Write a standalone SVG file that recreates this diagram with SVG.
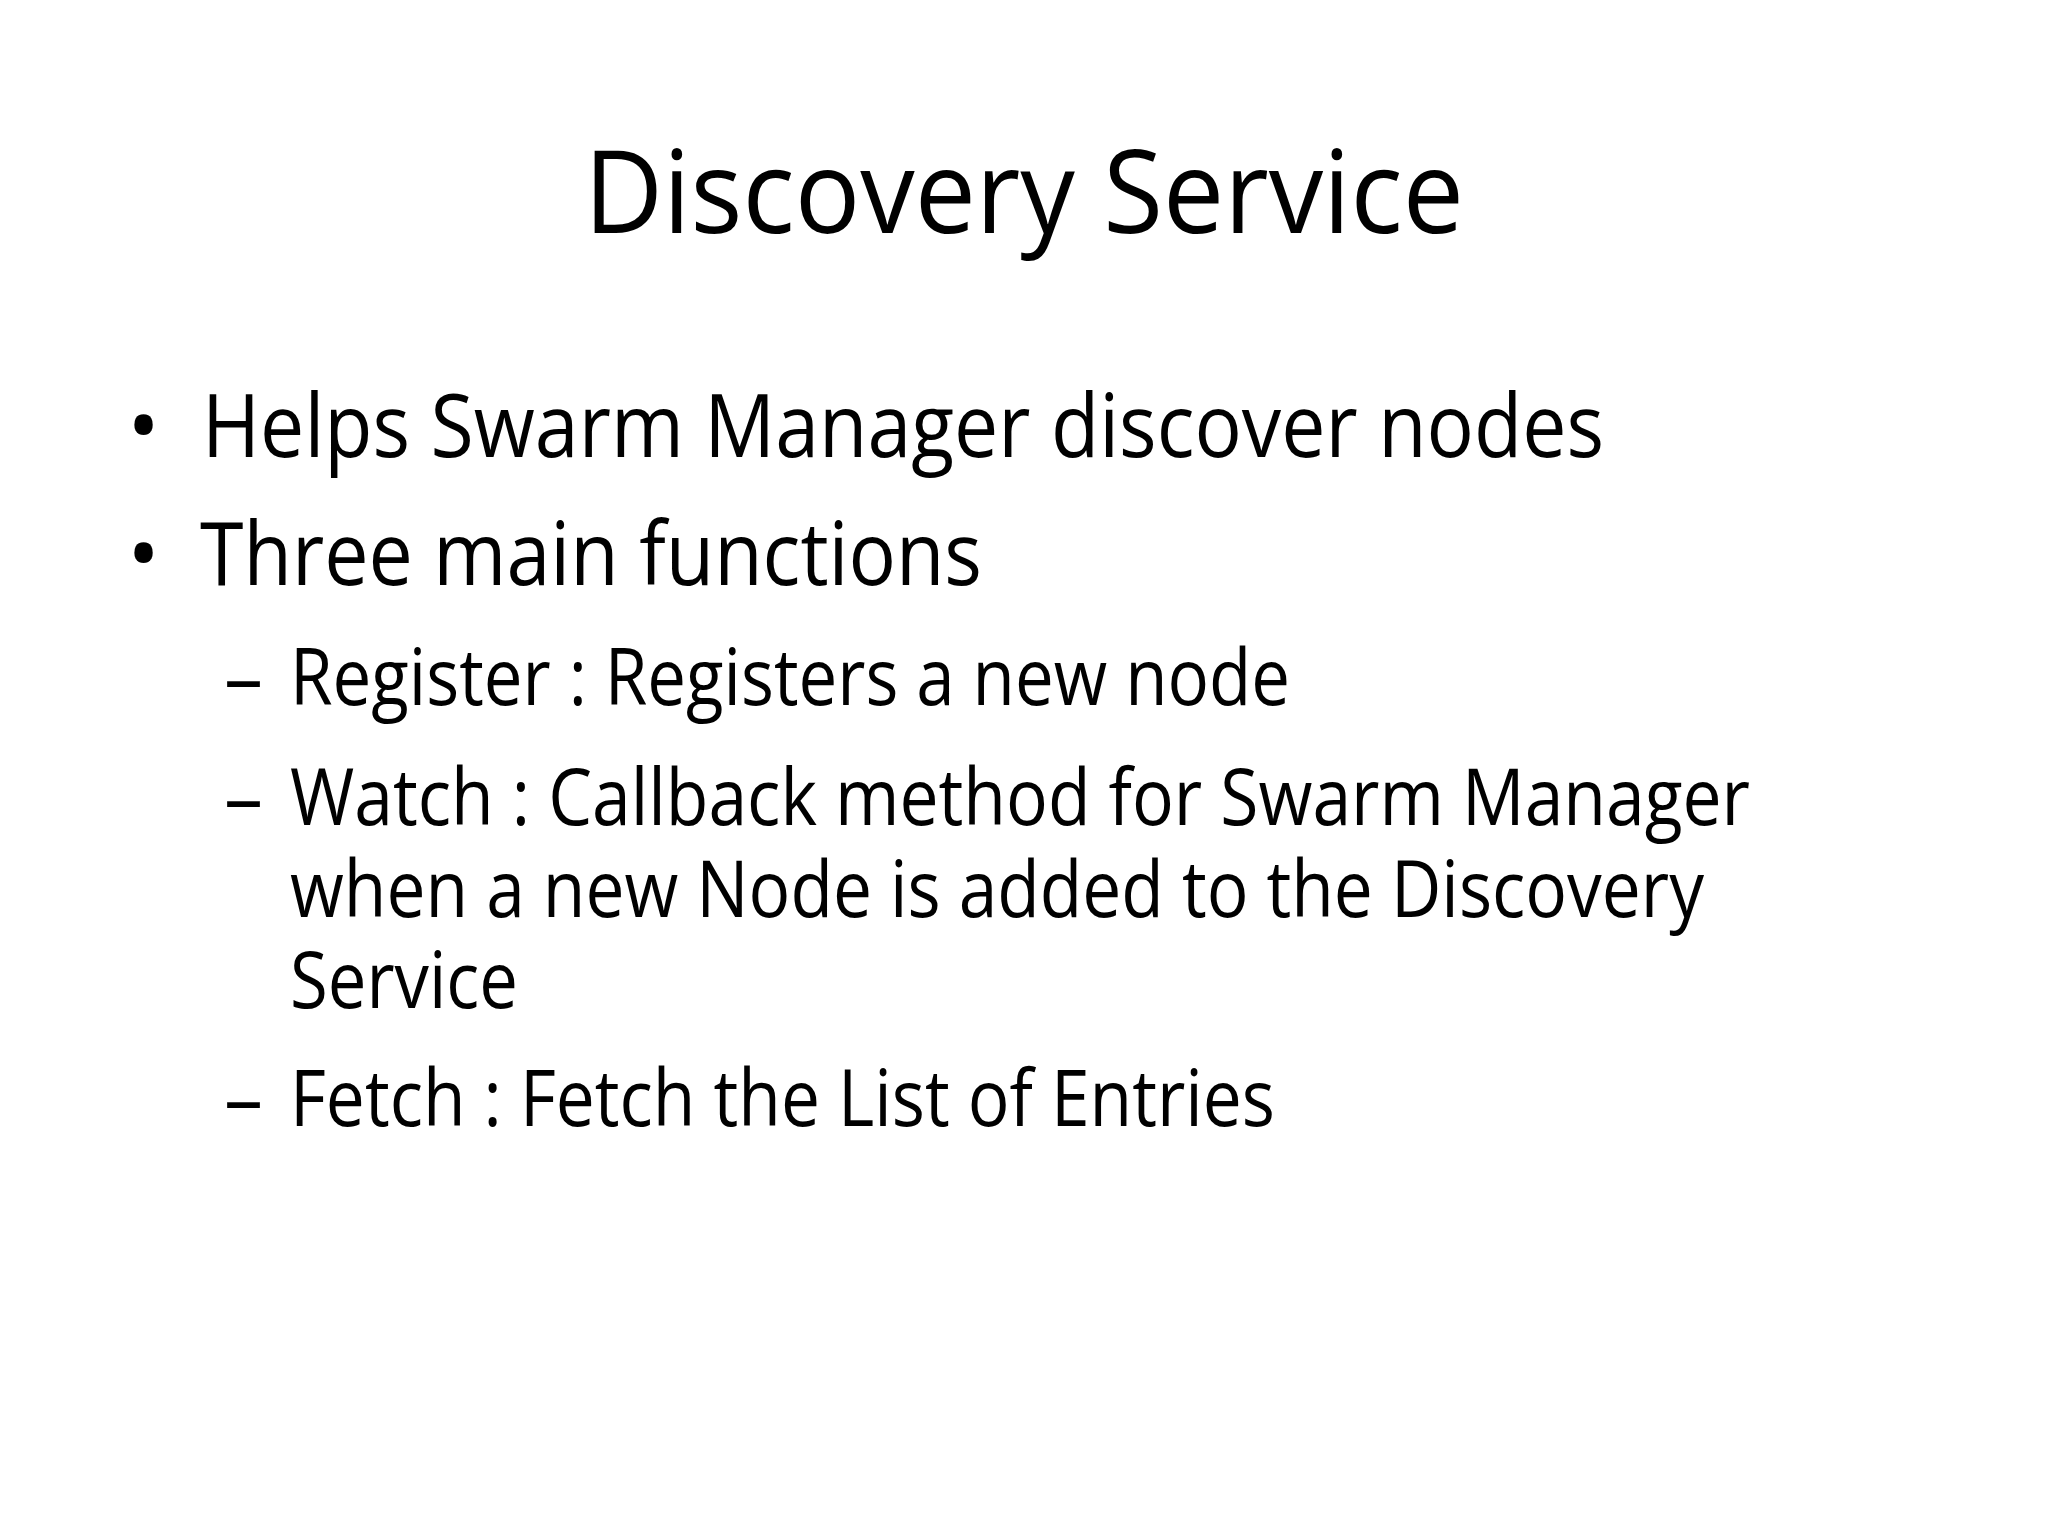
<svg xmlns="http://www.w3.org/2000/svg" width="2048" height="1536" viewBox="0 0 2048 1536">
<style>
text{font-family:"Open Sans","Noto Sans","Liberation Sans",sans-serif;fill:#000}
.t{font-size:116px}
.b{font-size:88px}
.s{font-size:78px}
</style>
<rect width="2048" height="1536" fill="#fff"/>
<text class="t" x="584" y="233" textLength="880" lengthAdjust="spacingAndGlyphs">Discovery Service</text>
<text class="b" x="127" y="457">•</text>
<text class="b" x="202" y="457" textLength="1402" lengthAdjust="spacingAndGlyphs">Helps Swarm Manager discover nodes</text>
<text class="b" x="127" y="585">•</text>
<text class="b" x="200" y="585" textLength="782" lengthAdjust="spacingAndGlyphs">Three main functions</text>
<text class="s" x="224" y="705">–</text>
<text class="s" x="290" y="705" textLength="1000" lengthAdjust="spacingAndGlyphs">Register : Registers a new node</text>
<text class="s" x="224" y="825">–</text>
<text class="s" x="290" y="825" textLength="1460" lengthAdjust="spacingAndGlyphs">Watch : Callback method for Swarm Manager</text>
<text class="s" x="290" y="917" textLength="1414" lengthAdjust="spacingAndGlyphs">when a new Node is added to the Discovery</text>
<text class="s" x="290" y="1008" textLength="228" lengthAdjust="spacingAndGlyphs">Service</text>
<text class="s" x="224" y="1126">–</text>
<text class="s" x="290" y="1126" textLength="985" lengthAdjust="spacingAndGlyphs">Fetch : Fetch the List of Entries</text>
</svg>
